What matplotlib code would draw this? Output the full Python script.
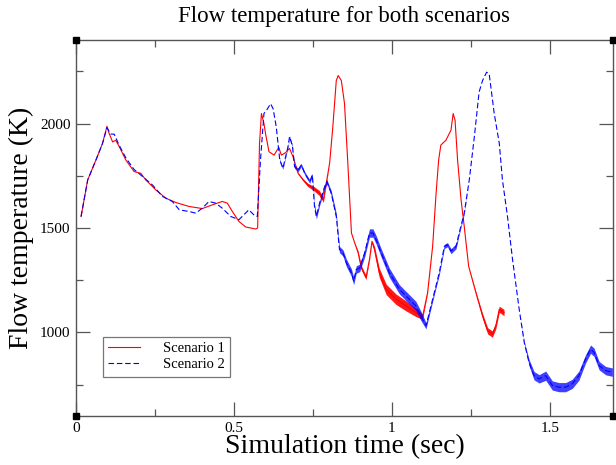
import numpy as np
import matplotlib
matplotlib.use("Agg")
import matplotlib.pyplot as plt
from matplotlib.ticker import MultipleLocator

# ---------------- data ----------------
s1_time = [0.016, 0.037, 0.063, 0.084, 0.098, 0.105, 0.116, 0.126, 0.137, 0.158,
           0.184, 0.205, 0.221, 0.253, 0.284, 0.316, 0.358, 0.400, 0.432, 0.463,
           0.479, 0.495, 0.516, 0.537, 0.569, 0.575, 0.581, 0.587, 0.595, 0.600,
           0.611, 0.627, 0.642, 0.650, 0.663, 0.676, 0.687, 0.703, 0.719, 0.734,
           0.750, 0.770, 0.783, 0.794, 0.803, 0.813, 0.824, 0.830, 0.840, 0.850,
           0.860, 0.872, 0.882, 0.893, 0.903, 0.918, 0.929, 0.937, 0.945, 0.960,
           0.982, 1.013, 1.045, 1.076, 1.097, 1.113, 1.129, 1.140, 1.148, 1.155,
           1.171, 1.187, 1.194, 1.200, 1.208, 1.219, 1.229, 1.243, 1.266, 1.287,
           1.303, 1.318, 1.329, 1.340, 1.355]
s1_temp = [1555, 1730, 1825, 1905, 1987, 1952, 1912, 1920, 1889, 1825,
           1770, 1762, 1730, 1682, 1643, 1622, 1603, 1593, 1611, 1627,
           1619, 1579, 1531, 1505, 1495, 1500, 1905, 2048, 2000, 1952,
           1865, 1849, 1886, 1849, 1860, 1881, 1841, 1762, 1730, 1706,
           1692, 1668, 1635, 1730, 1811, 1984, 2206, 2230, 2206, 2096,
           1825, 1476, 1430, 1382, 1311, 1263, 1349, 1436, 1397, 1286,
           1206, 1159, 1127, 1096, 1075, 1190, 1412, 1667, 1825, 1897,
           1920, 1968, 2048, 2016, 1825, 1635, 1508, 1317, 1190, 1079,
           1008, 992, 1032, 1111, 1095]
# half-width of the noisy band around scenario 1 (K)
s1_spread = [0, 0, 0, 0, 0, 0, 0, 0, 0, 0,
             0, 0, 0, 0, 0, 0, 0, 0, 0, 0,
             0, 0, 0, 0, 0, 0, 0, 0, 0, 0,
             0, 0, 0, 0, 0, 0, 0, 3, 5, 8,
             10, 12, 12, 5, 0, 0, 0, 0, 0, 0,
             0, 0, 0, 8, 10, 10, 5, 5, 15, 22,
             25, 25, 24, 20, 12, 3, 0, 0, 0, 0,
             0, 0, 0, 0, 0, 0, 0, 0, 5, 12,
             15, 15, 15, 15, 15]

s2_time = [0.016, 0.037, 0.063, 0.084, 0.098, 0.110, 0.121, 0.137, 0.158, 0.184,
           0.211, 0.242, 0.274, 0.305, 0.327, 0.358, 0.379, 0.400, 0.421, 0.442,
           0.463, 0.490, 0.516, 0.547, 0.563, 0.574, 0.584, 0.595, 0.603, 0.616,
           0.624, 0.634, 0.645, 0.655, 0.671, 0.676, 0.685, 0.692, 0.703, 0.713,
           0.724, 0.740, 0.748, 0.755, 0.761, 0.771, 0.787, 0.794, 0.808, 0.824,
           0.834, 0.845, 0.856, 0.872, 0.879, 0.887, 0.898, 0.914, 0.929, 0.940,
           0.950, 0.966, 0.992, 1.024, 1.055, 1.076, 1.092, 1.108, 1.129, 1.150,
           1.166, 1.176, 1.187, 1.203, 1.213, 1.229, 1.245, 1.261, 1.276, 1.287,
           1.300, 1.308, 1.324, 1.340, 1.350, 1.366, 1.382, 1.403, 1.419, 1.434,
           1.450, 1.466, 1.487, 1.508, 1.529, 1.550, 1.571, 1.592, 1.613, 1.629,
           1.640, 1.656, 1.677, 1.698]
s2_temp = [1555, 1730, 1825, 1905, 1980, 1950, 1949, 1895, 1835, 1780,
           1746, 1706, 1651, 1627, 1587, 1579, 1571, 1595, 1627, 1619,
           1595, 1555, 1540, 1587, 1563, 1555, 1825, 2048, 2063, 2095,
           2071, 1984, 1825, 1786, 1889, 1937, 1893, 1793, 1778, 1801,
           1762, 1722, 1754, 1603, 1555, 1619, 1698, 1722, 1667, 1555,
           1397, 1381, 1333, 1286, 1246, 1301, 1309, 1381, 1476, 1476,
           1444, 1381, 1286, 1206, 1159, 1127, 1079, 1032, 1159, 1286,
           1412, 1420, 1389, 1412, 1476, 1571, 1730, 1936, 2150, 2206,
           2246, 2238, 2048, 1905, 1730, 1555, 1349, 1111, 952, 857,
           793, 778, 793, 746, 738, 738, 754, 793, 873, 920,
           905, 841, 817, 810]
s2_spread = [0, 0, 0, 0, 0, 0, 0, 0, 0, 0,
             0, 0, 0, 0, 0, 0, 0, 0, 0, 0,
             0, 0, 0, 0, 0, 0, 0, 0, 0, 0,
             0, 0, 5, 5, 5, 5, 5, 8, 8, 8,
             8, 8, 8, 12, 12, 12, 10, 10, 12, 15,
             15, 15, 18, 18, 18, 18, 18, 18, 20, 20,
             20, 20, 22, 22, 22, 22, 22, 15, 10, 10,
             10, 10, 12, 12, 8, 5, 0, 0, 0, 0,
             0, 0, 0, 0, 0, 0, 0, 0, 5, 15,
             20, 20, 22, 22, 22, 22, 22, 22, 20, 20,
             20, 20, 20, 20]

series_names = ["Scenario 1", "Scenario 2"]
title = "Flow temperature for both scenarios"
xlabel = "Simulation time (sec)"
ylabel = "Flow temperature (K)"

# ---------------- plot ----------------
plt.rcParams['font.family'] = ['Liberation Serif', 'DejaVu Serif']

fig = plt.figure(figsize=(6.16, 4.65), dpi=100)
ax = fig.add_axes([76/616, 49/465, 537/616, 376/465])

red = '#ff0000'
blue = '#0000ff'

t1, y1, w1 = np.array(s1_time), np.array(s1_temp, float), np.array(s1_spread, float)
t2, y2, w2 = np.array(s2_time), np.array(s2_temp, float), np.array(s2_spread, float)

ax.fill_between(t1, y1 - w1, y1 + w1, color=red, lw=0, alpha=0.9, zorder=2)
ax.plot(t1, y1, color=red, lw=0.8, label=series_names[0], zorder=3)
ax.fill_between(t2, y2 - w2, y2 + w2, color=blue, lw=0, alpha=0.75, zorder=4)
ax.plot(t2, y2, color=blue, lw=0.8, ls=(0, (5, 2.5)), label=series_names[1], zorder=5)

ax.set_xlim(0, 1.7)
ax.set_ylim(600, 2400)
ax.xaxis.set_major_locator(MultipleLocator(0.5))
ax.xaxis.set_minor_locator(MultipleLocator(0.25))
ax.yaxis.set_major_locator(MultipleLocator(500))
ax.yaxis.set_minor_locator(MultipleLocator(250))
ax.set_xticks([0, 0.5, 1, 1.5])
ax.set_xticklabels(["0", "0.5", "1", "1.5"])
ax.set_yticks([1000, 1500, 2000])

spine_col = '#555555'
for s in ax.spines.values():
    s.set_color(spine_col)
    s.set_linewidth(1.0)
ax.tick_params(which='both', direction='in', top=True, right=True,
               color=spine_col, width=0.9, labelsize=11, pad=4)
ax.tick_params(which='major', length=10)
ax.tick_params(which='minor', length=5)

ax.set_title(title, fontsize=16.5, pad=13)
ax.set_xlabel(xlabel, fontsize=20, labelpad=0)
ax.set_ylabel(ylabel, fontsize=20, labelpad=4)

leg = ax.legend(loc='lower left', bbox_to_anchor=(0.05, 0.105), fontsize=10.5,
                frameon=True, fancybox=False, edgecolor='#555555',
                handlelength=2.2, borderpad=0.35, labelspacing=0.2,
                handletextpad=1.6, borderaxespad=0)
leg.get_frame().set_linewidth(0.9)

# corner markers (as in the reference)
ax.plot([0, 1, 0, 1], [0, 0, 1, 1], 's', ms=4, color='black',
        transform=ax.transAxes, clip_on=False, zorder=10)

fig.savefig("out.png", dpi=100)
